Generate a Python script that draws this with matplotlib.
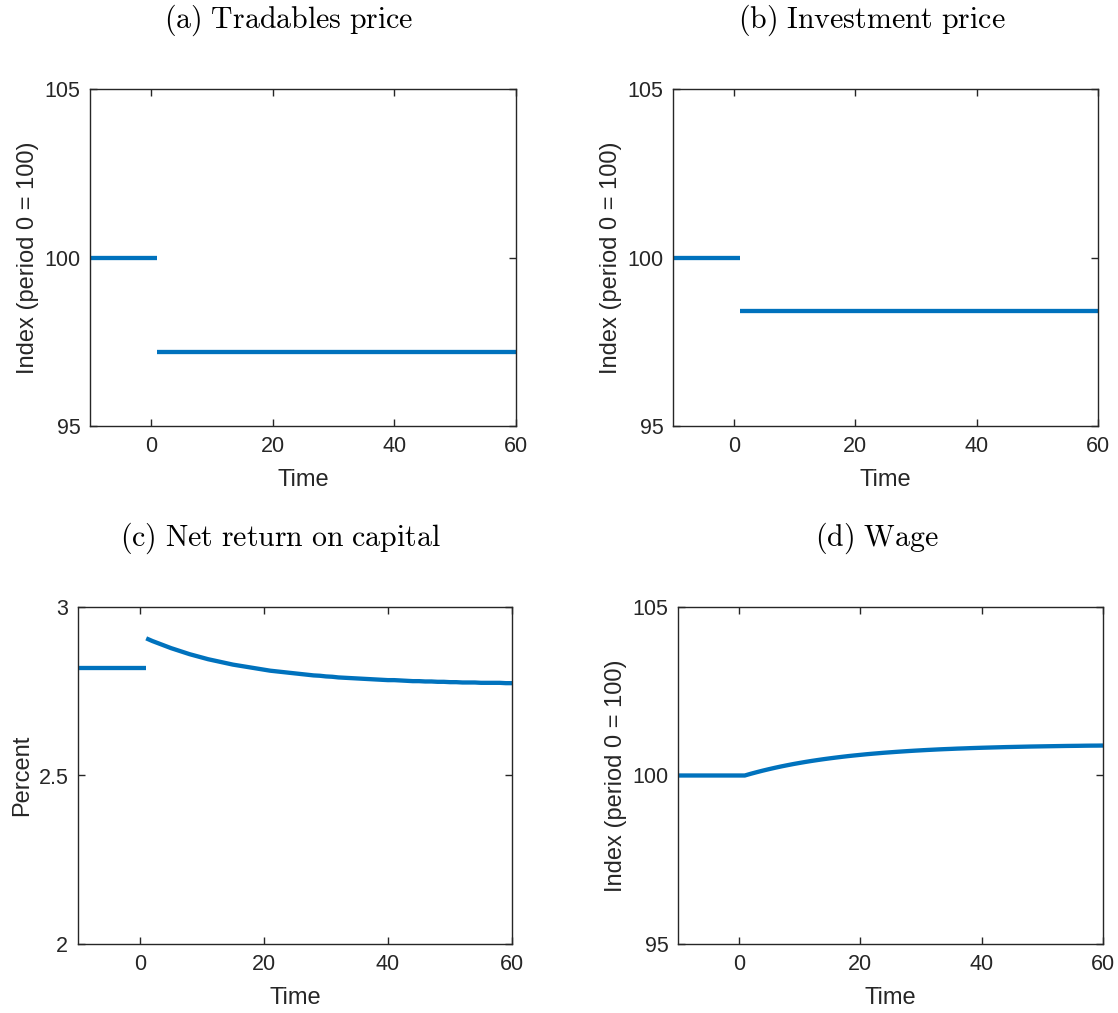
import numpy as np
import matplotlib
matplotlib.use("Agg")
import matplotlib.pyplot as plt

# ---- data -------------------------------------------------------------
pre_time = [-10, 1]
post_time = list(range(1, 61))

tradables_pre = [100.0, 100.0]
tradables_post = [97.2] * 60

investment_pre = [100.0, 100.0]
investment_post = [98.4] * 60

return_pre = [2.818, 2.818]
return_post = [
    2.907, 2.899, 2.892, 2.885, 2.878, 2.872, 2.866, 2.860, 2.855, 2.850,
    2.845, 2.841, 2.837, 2.833, 2.829, 2.826, 2.823, 2.820, 2.817, 2.814,
    2.811, 2.809, 2.807, 2.805, 2.803, 2.801, 2.799, 2.797, 2.796, 2.794,
    2.793, 2.791, 2.790, 2.789, 2.788, 2.787, 2.786, 2.785, 2.784, 2.783,
    2.783, 2.782, 2.781, 2.780, 2.780, 2.779, 2.779, 2.778, 2.778, 2.777,
    2.777, 2.776, 2.776, 2.776, 2.775, 2.775, 2.775, 2.775, 2.774, 2.774,
]

wage_pre = [100.0, 100.0]
wage_post = [
    100.000, 100.052, 100.100, 100.146, 100.189, 100.230, 100.269, 100.305, 100.340, 100.372,
    100.403, 100.432, 100.459, 100.485, 100.509, 100.532, 100.554, 100.575, 100.594, 100.612,
    100.630, 100.646, 100.661, 100.676, 100.689, 100.702, 100.714, 100.726, 100.737, 100.747,
    100.757, 100.766, 100.775, 100.783, 100.790, 100.798, 100.804, 100.811, 100.817, 100.823,
    100.828, 100.833, 100.838, 100.843, 100.847, 100.851, 100.855, 100.859, 100.862, 100.865,
    100.868, 100.871, 100.874, 100.877, 100.879, 100.881, 100.884, 100.886, 100.887, 100.889,
]

titles = ["(a) Tradables price", "(b) Investment price",
          "(c) Net return on capital", "(d) Wage"]
index_label = "Index (period 0 = 100)"
x_ticks = [0, 20, 40, 60]
index_ticks = [95, 100, 105]
percent_ticks = [2, 2.5, 3]
percent_ticklabels = ["2", "2.5", "3"]

# ---- style ------------------------------------------------------------
LINE = "#0072BD"
AXC = "#262626"
plt.rcParams["font.family"] = ["Liberation Sans", "DejaVu Sans"]
plt.rcParams["mathtext.fontset"] = "cm"

W, H = 1118, 1013
fig = plt.figure(figsize=(W / 100, H / 100), dpi=100)


def make_axes(left, right, top, bottom):
    return fig.add_axes([left / W, (H - bottom) / H, (right - left) / W, (bottom - top) / H])


def style(ax, title, ylabel, yticks, yticklabels=None):
    ax.set_xlim(-10, 60)
    ax.set_xticks(x_ticks)
    ax.set_yticks(yticks)
    if yticklabels is not None:
        ax.set_yticklabels(yticklabels)
    ax.set_ylim(yticks[0], yticks[-1])
    for s in ax.spines.values():
        s.set_color(AXC)
        s.set_linewidth(1.0)
    ax.tick_params(direction="in", length=5, width=1.0, color=AXC,
                   labelcolor=AXC, labelsize=15.5, top=True, right=True, pad=7)
    ax.set_xlabel("Time", fontsize=17, color=AXC, labelpad=9)
    ax.set_ylabel(ylabel, fontsize=17, color=AXC, labelpad=4)
    words = title.replace(" ", r"\ ")
    ax.text(0.467, 1.205, r"$\mathrm{" + words + "}$", transform=ax.transAxes,
            ha="center", va="center", fontsize=21.5, color="black")


def draw(ax, pre, post, joined=False):
    kw = dict(color=LINE, linewidth=3.1, solid_capstyle="butt", clip_on=False)
    if joined:
        ax.plot(pre_time + post_time[1:], pre + post[1:], **kw)
    else:
        ax.plot(pre_time, pre, **kw)
        ax.plot(post_time, post, **kw)


ax_a = make_axes(90, 516, 89, 426)
draw(ax_a, tradables_pre, tradables_post)
style(ax_a, titles[0], index_label, index_ticks)

ax_b = make_axes(673, 1098, 89, 426)
draw(ax_b, investment_pre, investment_post)
style(ax_b, titles[1], index_label, index_ticks)

ax_c = make_axes(78, 512, 607, 944)
draw(ax_c, return_pre, return_post)
style(ax_c, titles[2], "Percent", percent_ticks, percent_ticklabels)

ax_d = make_axes(678, 1103, 607, 944)
draw(ax_d, wage_pre, wage_post, joined=True)
style(ax_d, titles[3], index_label, index_ticks)

fig.savefig("out.png", dpi=100, facecolor="white")
